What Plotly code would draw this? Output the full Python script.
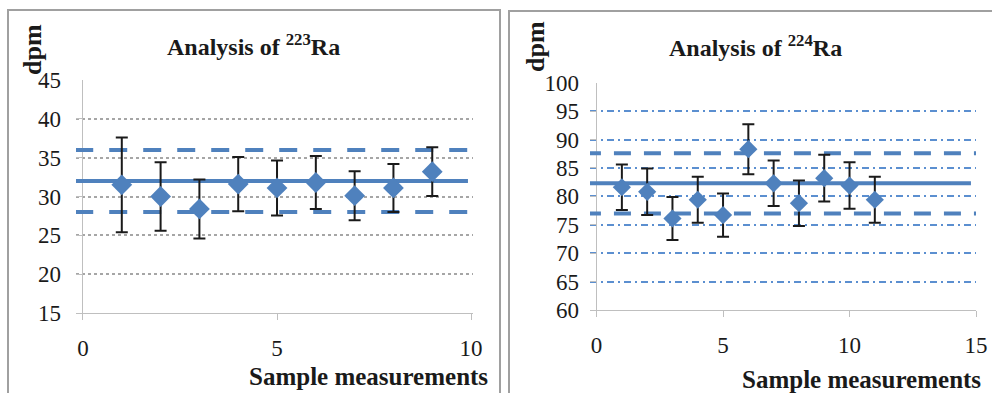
import plotly.graph_objects as go

# ---------------- data ----------------
ra223_x = [1, 2, 3, 4, 5, 6, 7, 8, 9]
ra223_y = [31.5, 30.0, 28.4, 31.6, 31.1, 31.8, 30.1, 31.1, 33.2]
ra223_err = [6.1, 4.4, 3.8, 3.5, 3.55, 3.4, 3.15, 3.1, 3.15]
ra223_mean = 32.0
ra223_upper = 36.0
ra223_lower = 28.0
ra223_solid_x = [-0.2, 9.92]
ra223_dash_x = [-0.2, 10.1]

ra224_x = [1, 2, 3, 4, 5, 6, 7, 8, 9, 10, 11]
ra224_y = [81.6, 80.8, 76.1, 79.4, 76.7, 88.3, 82.3, 78.8, 83.2, 81.9, 79.4]
ra224_err = [4.0, 4.1, 3.8, 4.05, 3.8, 4.4, 4.0, 4.0, 4.1, 4.1, 4.05]
ra224_mean = 82.3
ra224_upper = 87.6
ra224_lower = 77.0
ra224_solid_x = [-0.5, 14.8]
ra224_dash_x = [-0.5, 15.1]

x_ticks_left = [0, 5, 10]
x_ticks_right = [0, 5, 10, 15]

BLUE = "#4f81bd"
FONT = "Liberation Serif, Times New Roman, Times, serif"
TXT = "#1a1a1a"
AXC = "#bfbfbf"

fig = go.Figure()


def add_panel(xs, ys, errs, mean, up, lo, solid_x, dash_x, xa, ya, msize, dash):
    fig.add_trace(go.Scatter(x=solid_x, y=[mean, mean], mode="lines",
                             line=dict(color=BLUE, width=4), xaxis=xa, yaxis=ya,
                             showlegend=False, hoverinfo="skip"))
    for v in (up, lo):
        fig.add_trace(go.Scatter(x=dash_x, y=[v, v], mode="lines",
                                 line=dict(color=BLUE, width=4, dash=dash),
                                 xaxis=xa, yaxis=ya, showlegend=False, hoverinfo="skip"))
    fig.add_trace(go.Scatter(x=xs, y=ys, mode="markers",
                             marker=dict(symbol="diamond", size=msize, color=BLUE),
                             error_y=dict(type="data", array=errs, visible=True,
                                          color="#1a1a1a", thickness=2, width=6),
                             xaxis=xa, yaxis=ya, showlegend=False))


add_panel(ra223_x, ra223_y, ra223_err, ra223_mean, ra223_upper, ra223_lower,
          ra223_solid_x, ra223_dash_x, "x", "y", 16, "18px,16px")
add_panel(ra224_x, ra224_y, ra224_err, ra224_mean, ra224_upper, ra224_lower,
          ra224_solid_x, ra224_dash_x, "x2", "y2", 14, "17px,13px")

tickfont = dict(family=FONT, size=23, color=TXT)

common_x = dict(showline=True, linecolor=AXC, linewidth=1, ticks="outside", ticklen=6,
                tickcolor=AXC, zeroline=True, zerolinecolor=AXC, zerolinewidth=1,
                showgrid=False, tickfont=tickfont, ticklabelstandoff=8, fixedrange=True,
                automargin=False)
common_y = dict(showline=False, zeroline=False, ticks="inside", ticklen=7, tickcolor=AXC,
                tickfont=tickfont, fixedrange=True, dtick=5, automargin=False)

fig.update_layout(
    width=992, height=393,
    margin=dict(l=0, r=0, t=0, b=0, autoexpand=False),
    paper_bgcolor="white", plot_bgcolor="white",
    xaxis=dict(common_x, domain=[76 / 992, 473 / 992], range=[-0.18, 10.05],
               tickvals=x_ticks_left, anchor="y"),
    yaxis=dict(common_y, domain=[1 - 313 / 393, 1 - 80 / 393], range=[15, 45], anchor="x",
               ticklabelstandoff=14,
               showgrid=True, gridcolor="#a6a6a6", gridwidth=1.5, griddash="3px,3px"),
    xaxis2=dict(common_x, domain=[590 / 992, 976 / 992], range=[-0.26, 15.0],
                tickvals=x_ticks_right, anchor="y2"),
    yaxis2=dict(common_y, domain=[1 - 310 / 393, 1 - 82.7 / 393], range=[60, 100], anchor="x2",
                ticklabelstandoff=10,
                showgrid=True, gridcolor="#5b8fd0", gridwidth=1.5, griddash="7px,4px,2px,4px"),
)

ann = []
ann.append(dict(text="<b>Analysis of <sup>223</sup>Ra</b>", x=253 / 992, y=1 - 45 / 393,
                xanchor="center", yanchor="middle"))
ann.append(dict(text="<b>Analysis of <sup>224</sup>Ra</b>", x=755 / 992, y=1 - 46 / 393,
                xanchor="center", yanchor="middle"))
for a in ann:
    a.update(xref="paper", yref="paper", showarrow=False,
             font=dict(family=FONT, size=24, color=TXT))
extra = [
    dict(text="<b>dpm</b>", x=32 / 992, y=1 - 50 / 393, textangle=-90,
         xanchor="center", yanchor="middle", font=dict(family=FONT, size=26, color=TXT)),
    dict(text="<b>dpm</b>", x=535 / 992, y=1 - 47 / 393, textangle=-90,
         xanchor="center", yanchor="middle", font=dict(family=FONT, size=26, color=TXT)),
    dict(text="<b>Sample measurements</b>", x=490 / 992, y=1 - 376 / 393,
         xanchor="right", yanchor="middle", font=dict(family=FONT, size=25, color=TXT)),
    dict(text="<b>Sample measurements</b>", x=983 / 992, y=1 - 379 / 393,
         xanchor="right", yanchor="middle", font=dict(family=FONT, size=25, color=TXT)),
]
for a in extra:
    a.update(xref="paper", yref="paper", showarrow=False)
fig.update_layout(annotations=ann + extra)

fig.update_layout(shapes=[
    dict(type="rect", xref="paper", yref="paper", x0=8 / 992, x1=500 / 992,
         y0=-0.05, y1=1 - 10 / 393, line=dict(color="#a0a0a0", width=2)),
    dict(type="rect", xref="paper", yref="paper", x0=509 / 992, x1=1.05,
         y0=-0.05, y1=1 - 11 / 393, line=dict(color="#a0a0a0", width=2)),
])

fig.write_html("out.html", config={"displayModeBar": False},
               post_script="document.body.style.margin='0';document.body.style.overflow='hidden';")
